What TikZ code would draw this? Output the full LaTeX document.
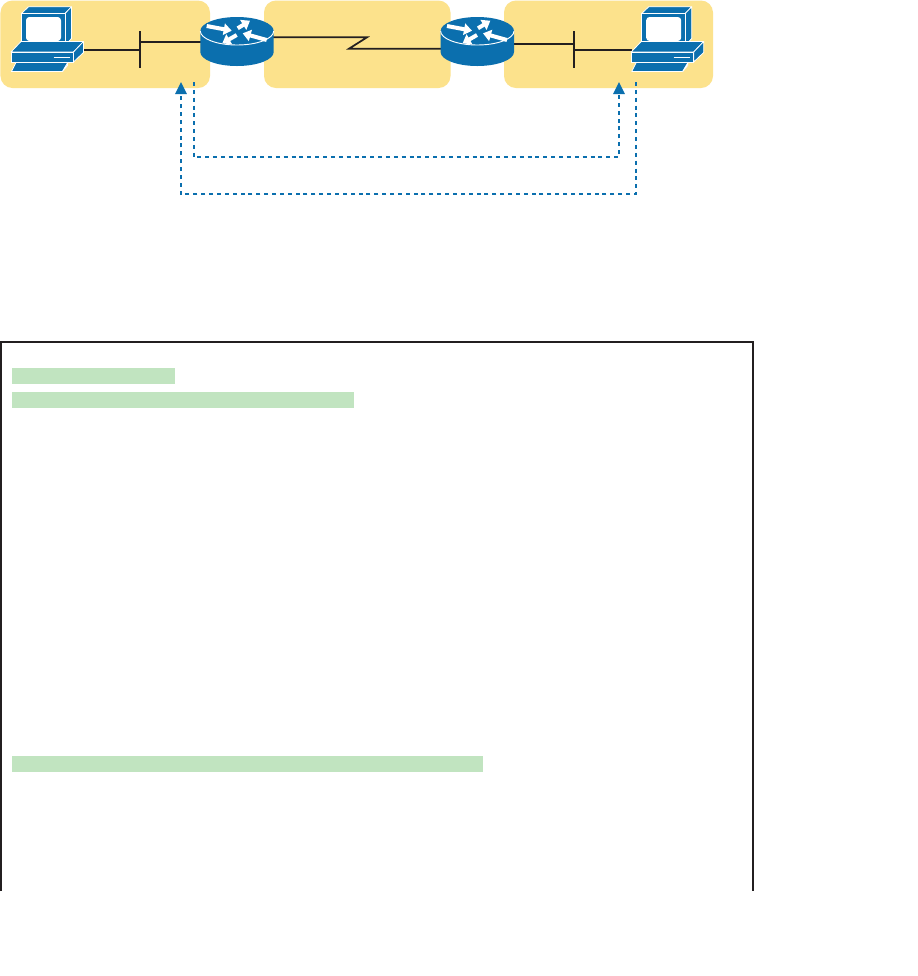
\documentclass[tikz,border=0pt]{standalone}
\usetikzlibrary{arrows.meta}
\definecolor{zoneY}{HTML}{FCE28C}
\definecolor{ciscoB}{HTML}{0B6FAE}
\definecolor{inkK}{HTML}{231F20}
\definecolor{barG}{HTML}{C1E4C0}
\tikzset{
  x=0.75pt,y=-0.75pt,
  zone/.style={fill=zoneY,draw=none,rounded corners=9pt},
  wire/.style={draw=inkK,line width=1.3pt},
  path1/.style={draw=ciscoB,line width=1.5pt,dash pattern=on 3pt off 2.9pt,-{Triangle[length=9pt,width=8.5pt]}},
  hl/.style={fill=barG,draw=none},
  face/.style={fill=ciscoB,draw=white,line width=0.6pt,line join=round},
  rarrow/.style={draw=white,line width=3pt,-{Triangle[length=6pt,width=8.5pt]}},
  pics/router/.style={code={
    \fill[ciscoB] (-36.7,-10.5) .. controls (-36.7,-18.2) and (-20.3,-24.5) .. (0,-24.5) .. controls (20.3,-24.5) and (36.7,-18.2) .. (36.7,-10.5) -- (36.7,10.5) .. controls (36.7,18.2) and (20.3,24.5) .. (0,24.5) .. controls (-20.3,24.5) and (-36.7,18.2) .. (-36.7,10.5) -- cycle;
    \draw[white,line width=0.7pt] (-36.7,-10.5) .. controls (-36.7,-2.8) and (-20.3,3.5) .. (0,3.5) .. controls (20.3,3.5) and (36.7,-2.8) .. (36.7,-10.5);
    \draw[rarrow] (-30.3,-15.5) -- (-5.3,-10.8);
    \draw[rarrow] (0.7,-13.2) -- (13,-20.8);
    \draw[rarrow] (29.7,-1.5) -- (5.7,-8.2);
    \draw[rarrow] (-0.3,-6.5) -- (-14.7,1.8);
  }},
  pics/workstation/.style={code={
    \path[face] (0,0) -- (7,-6.7) -- (50,-6.7) -- (43.5,0) -- cycle;
    \path[face] (43.5,0) -- (50,-6.7) -- (50,25) -- (43.5,32) -- cycle;
    \path[face] (0,0) rectangle (43.5,32);
    \fill[white,rounded corners=2.5pt] (4.5,3.5) rectangle (39.5,27.5);
    \path[face] (-10.5,38.5) -- (-0.5,28) -- (62,28) -- (52,38.5) -- cycle;
    \path[face] (52,38.5) -- (62,28) -- (62,39) -- (52,48.5) -- cycle;
    \path[face] (-10.5,38.5) rectangle (52,48.5);
    \draw[white,line width=0.5pt] (32,44) -- (48,44);
    \path[face] (-5.5,49) -- (46,49) -- (46,50) -- (41,58) -- (-10,58) -- cycle;
    \path[face] (46,49.5) -- (46,52) -- (41,58) -- cycle;
  }},
}
\begin{document}
\begin{tikzpicture}
\useasboundingbox (0,0) rectangle (918,976);
\fill[white] (0,0) rectangle (918,976);
% zones
\path[zone] (0.5,0.5) rectangle (210,88);
\path[zone] (264,0.5) rectangle (450.5,88);
\path[zone] (504,0.5) rectangle (713,88);
% connectors
\coordinate (pcL) at (84,50);
\coordinate (busLa) at (140,31);
\coordinate (busLb) at (140,68);
\coordinate (busLm) at (140,50);
\coordinate (busLn) at (140,42);
\coordinate (rLw) at (205,42);
\coordinate (rLe) at (270,37.3);
\coordinate (kink1) at (367,37.3);
\coordinate (kink2) at (349,48.7);
\coordinate (rRw) at (445,48.7);
\coordinate (rRe) at (510,44);
\coordinate (busRn) at (574,44);
\coordinate (busRa) at (574,31);
\coordinate (busRb) at (574,68);
\coordinate (busRm) at (574,50);
\coordinate (pcR) at (632,50);
\draw[wire] (pcL) -- (busLm);
\draw[wire] (busLa) -- (busLb);
\draw[wire] (busLn) -- (rLw);
\draw[wire,line join=miter] (rLe) -- (kink1) -- (kink2) -- (rRw);
\draw[wire] (rRe) -- (busRn);
\draw[wire] (busRa) -- (busRb);
\draw[wire] (busRm) -- (pcR);
% devices
\pic at (21.5,13.5) {workstation};
\pic at (641.7,13.5) {workstation};
\pic at (237,41.5) {router};
\pic at (477.3,41.5) {router};
% dashed paths
\coordinate (aS) at (193.5,82);
\coordinate (aT) at (619,82);
\coordinate (bS) at (636,82);
\coordinate (bT) at (181,82);
\draw[path1] (aS) -- (193.5,157) -- (619,157) -- (aT);
\draw[path1] (bS) -- (636,194) -- (181,194) -- (bT);
% listing frame
\draw[draw=inkK,line width=1.6pt] (1,891) -- (1,342) -- (753,342) -- (753,891);
\path[hl] (12,368) rectangle (175,384);
\path[hl] (12,392) rectangle (354,408);
\path[hl] (12,756) rectangle (483,772);
\end{tikzpicture}
\end{document}
